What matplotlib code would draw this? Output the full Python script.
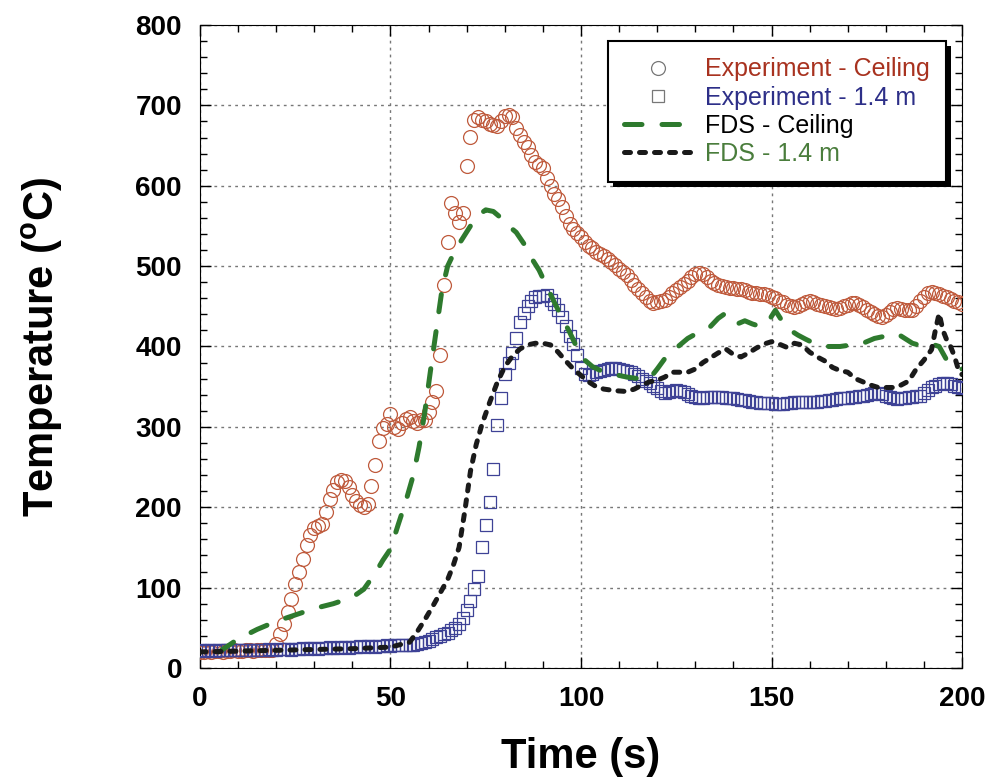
import numpy as np
import matplotlib
matplotlib.use("Agg")
import matplotlib.pyplot as plt
import matplotlib.patheffects as pe
from matplotlib.ticker import MultipleLocator

# tiempo de las mediciones (1 s)
t_exp = np.arange(0, 201)

# Experimento - techo (circulos)
exp_techo = [20, 20, 21, 20, 21, 21, 20, 21, 21, 22, 21, 21, 22, 22, 21, 22, 22, 23, 22, 23,
             30, 42, 55, 70, 86, 104, 120, 136, 153, 165,
             174, 177, 179, 194, 210, 222, 231, 234, 233, 225,
             215, 208, 203, 200, 204, 226, 253, 282, 298, 303,
             316, 300, 297, 305, 310, 312, 307, 305, 309, 308,
             318, 331, 345, 390, 476, 530, 578, 566, 555, 566,
             625, 661, 682, 685, 682, 680, 677, 675, 674, 680,
             687, 688, 686, 672, 663, 655, 648, 638, 630, 626,
             622, 610, 600, 590, 583, 574, 562, 552, 546, 541,
             536, 530, 525, 522, 518, 515, 512, 509, 505, 501,
             497, 493, 489, 483, 477, 471, 466, 461, 457, 454,
             455, 457, 458, 462, 466, 470, 474, 478, 482, 486,
             490, 492, 490, 486, 482, 479, 476, 475, 474, 473,
             473, 472, 472, 470, 468, 467, 466, 465, 465, 464,
             462, 460, 457, 455, 452, 450, 449, 450, 453, 455,
             456, 455, 453, 451, 450, 449, 448, 447, 448, 450,
             452, 454, 454, 452, 449, 446, 443, 440, 438, 437,
             439, 443, 447, 448, 447, 446, 445, 446, 450, 456,
             462, 466, 468, 467, 465, 463, 461, 459, 457, 455, 453]

# Experimento - 1.4 m (cuadros)
exp_14 = [22, 21, 22, 22, 21, 22, 22, 22, 23, 22,
          22, 23, 22, 23, 23, 22, 23, 23, 24, 23,
          23, 24, 24, 24, 23, 24, 24, 25, 24, 25,
          25, 24, 25, 25, 26, 25, 25, 26, 26, 25,
          26, 26, 27, 26, 27, 27, 26, 27, 27, 28,
          27, 28, 28, 28, 29, 29, 29, 30, 31, 32,
          33, 36, 38, 40, 42, 44, 47, 50, 55, 62,
          72, 83, 98, 115, 150, 178, 207, 248, 302, 336,
          366, 380, 392, 410, 430, 442, 450, 456, 462, 463,
          463, 464, 458, 453, 446, 437, 425, 413, 403, 390,
          373, 366, 364, 366, 368, 370, 371, 372, 373, 373,
          372, 371, 370, 368, 366, 363, 360, 357, 354, 351,
          348, 345, 342, 343, 345, 346, 345, 343, 341, 339,
          337, 336, 336, 337, 337, 337, 337, 337, 336, 336,
          336, 335, 334, 333, 332, 331, 331, 330, 330, 330,
          330, 329, 329, 329, 330, 330, 331, 331, 331, 331,
          331, 331, 331, 332, 332, 333, 334, 335, 336, 336,
          336, 337, 337, 338, 339, 340, 341, 342, 342, 341,
          339, 337, 336, 335, 336, 336, 337, 337, 338, 339,
          342, 346, 349, 351, 353, 354, 354, 353, 351, 349, 348]

# FDS - techo
t_fds_techo = [5, 10, 15, 20, 25, 30, 35, 40, 43, 46, 48, 50, 52, 54, 56, 57.5, 59, 60.5, 62, 63.5,
               65, 67, 69, 71, 73, 75, 77, 79, 81, 83, 85, 87, 89, 91, 93, 95, 97, 99, 101, 103,
               106, 109, 112, 115, 118, 120, 122, 125, 128, 131, 134, 136, 137.5, 139, 141, 143,
               145, 147, 149, 151, 153, 155, 157, 159, 162, 165, 168, 171, 174, 177, 180, 183,
               185, 187, 190, 192, 194, 196, 198, 200]
fds_techo = [20, 36, 48, 58, 66, 74, 80, 88, 98, 118, 134, 148, 178, 207, 240, 275, 318, 370, 420, 470,
             500, 520, 535, 550, 563, 570, 568, 560, 550, 542, 528, 510, 495, 475, 455, 436, 418, 398, 383, 375,
             368, 365, 362, 360, 360, 372, 385, 398, 410, 418, 425, 435, 440, 430, 428, 432,
             428, 425, 430, 445, 430, 420, 414, 409, 402, 400, 400, 402, 404, 410, 413, 416,
             410, 404, 400, 403, 400, 383, 375, 372]

# FDS - 1.4 m
t_fds_14 = [0, 10, 20, 30, 40, 50, 55, 57, 59, 61, 63, 65, 66.5, 68, 69.5, 71, 72.5, 74, 76, 78,
            80, 82, 84, 86, 88, 90, 92, 94, 96, 98, 100, 102, 104, 106, 109, 112, 114, 116, 118, 120,
            122, 124, 126, 128, 130, 132, 134, 136, 138, 140, 142, 144, 146, 148, 150, 152, 154, 156,
            158, 160, 162, 164, 166, 168, 170, 172, 174, 176, 178, 180, 182, 184, 186, 188, 190, 192,
            193, 194, 195, 196, 197, 198, 199, 200]
fds_14 = [20, 21, 22, 23, 24, 26, 32, 45, 60, 76, 93, 110, 128, 150, 195, 245, 278, 303, 330, 355,
          375, 388, 397, 402, 404, 404, 402, 393, 382, 372, 364, 356, 350, 347, 345, 344, 347, 352, 356, 358,
          362, 368, 368, 368, 372, 380, 386, 392, 397, 390, 387, 392, 398, 403, 406, 403, 399, 404,
          402, 393, 387, 382, 374, 370, 368, 360, 356, 352, 349, 349, 349, 352, 357, 372, 383, 396,
          420, 441, 420, 408, 400, 388, 372, 365]

verde = "#2e7a2e"
negro = "#1a1a1a"
guion_verde = (3.5, 4)
guion_negro = (1.2, 1.8)

fig = plt.figure(figsize=(9.88, 7.81), dpi=100)
ax = fig.add_axes([0.2024, 0.1447, 0.7713, 0.8233])

ax.plot(t_exp, exp_techo, linestyle="none", marker="o", markersize=10, fillstyle="none",
        markeredgewidth=0.9, color="#bf5a3c", zorder=3)
ax.plot(t_exp, exp_14, linestyle="none", marker="s", markersize=9, fillstyle="none",
        markeredgewidth=0.9, color="#3e4296", zorder=4)
ax.plot(t_fds_techo, fds_techo, color=verde, linewidth=3.6, dashes=guion_verde,
        dash_capstyle="round", zorder=5)
ax.plot(t_fds_14, fds_14, color=negro, linewidth=3.6, dashes=guion_negro,
        dash_capstyle="round", zorder=6)

ax.set_xlim(0, 200)
ax.set_ylim(0, 800)
ax.xaxis.set_major_locator(MultipleLocator(50))
ax.xaxis.set_minor_locator(MultipleLocator(10))
ax.yaxis.set_major_locator(MultipleLocator(100))
ax.yaxis.set_minor_locator(MultipleLocator(20))
ax.tick_params(which="both", direction="in", top=True, right=True, labelsize=20, pad=13, width=1)
ax.tick_params(which="major", length=8)
ax.tick_params(which="minor", length=5)
for lab in ax.get_xticklabels() + ax.get_yticklabels():
    lab.set_fontweight("bold")
    lab.set_fontfamily("Liberation Sans")
ax.grid(True, which="major", color="#777777", linestyle=(0, (2, 3)), linewidth=1)

ax.set_xlabel("Time (s)", fontsize=30, fontweight="bold", family="Liberation Sans", labelpad=18)
ax.set_ylabel("Temperature ($\\mathregular{^oC}$)", fontsize=30, fontweight="bold",
              family="Liberation Sans", labelpad=51)

# leyenda con manijas grises para los experimentos
h1, = ax.plot([], [], linestyle="none", marker="o", markersize=10, fillstyle="none",
              markeredgewidth=0.9, color="#777777")
h2, = ax.plot([], [], linestyle="none", marker="s", markersize=9, fillstyle="none",
              markeredgewidth=0.9, color="#777777")
h3, = ax.plot([], [], color=verde, linewidth=3.6, dashes=guion_verde, dash_capstyle="round")
h4, = ax.plot([], [], color=negro, linewidth=3.6, dashes=guion_negro, dash_capstyle="round")
leg = ax.legend([h1, h2, h3, h4],
                ["Experiment - Ceiling", "Experiment - 1.4 m", "FDS - Ceiling", "FDS - 1.4 m"],
                loc="upper left", bbox_to_anchor=(0.535, 0.975), borderaxespad=0,
                prop={"family": "Liberation Sans", "size": 18},
                frameon=True, fancybox=False, shadow=False,
                handlelength=2.7, handletextpad=0.55, labelspacing=0.17, borderpad=0.65, framealpha=1)
marco = leg.get_frame()
marco.set_edgecolor("black")
marco.set_linewidth(1.5)
marco.set_path_effects([pe.SimplePatchShadow(offset=(3.5, -3.5), shadow_rgbFace="black", alpha=1),
                        pe.Normal()])
for txt, c in zip(leg.get_texts(), ["#a8321f", "#2d2f88", "black", "#4a7d3c"]):
    txt.set_color(c)

fig.savefig("out.png", dpi=100)
